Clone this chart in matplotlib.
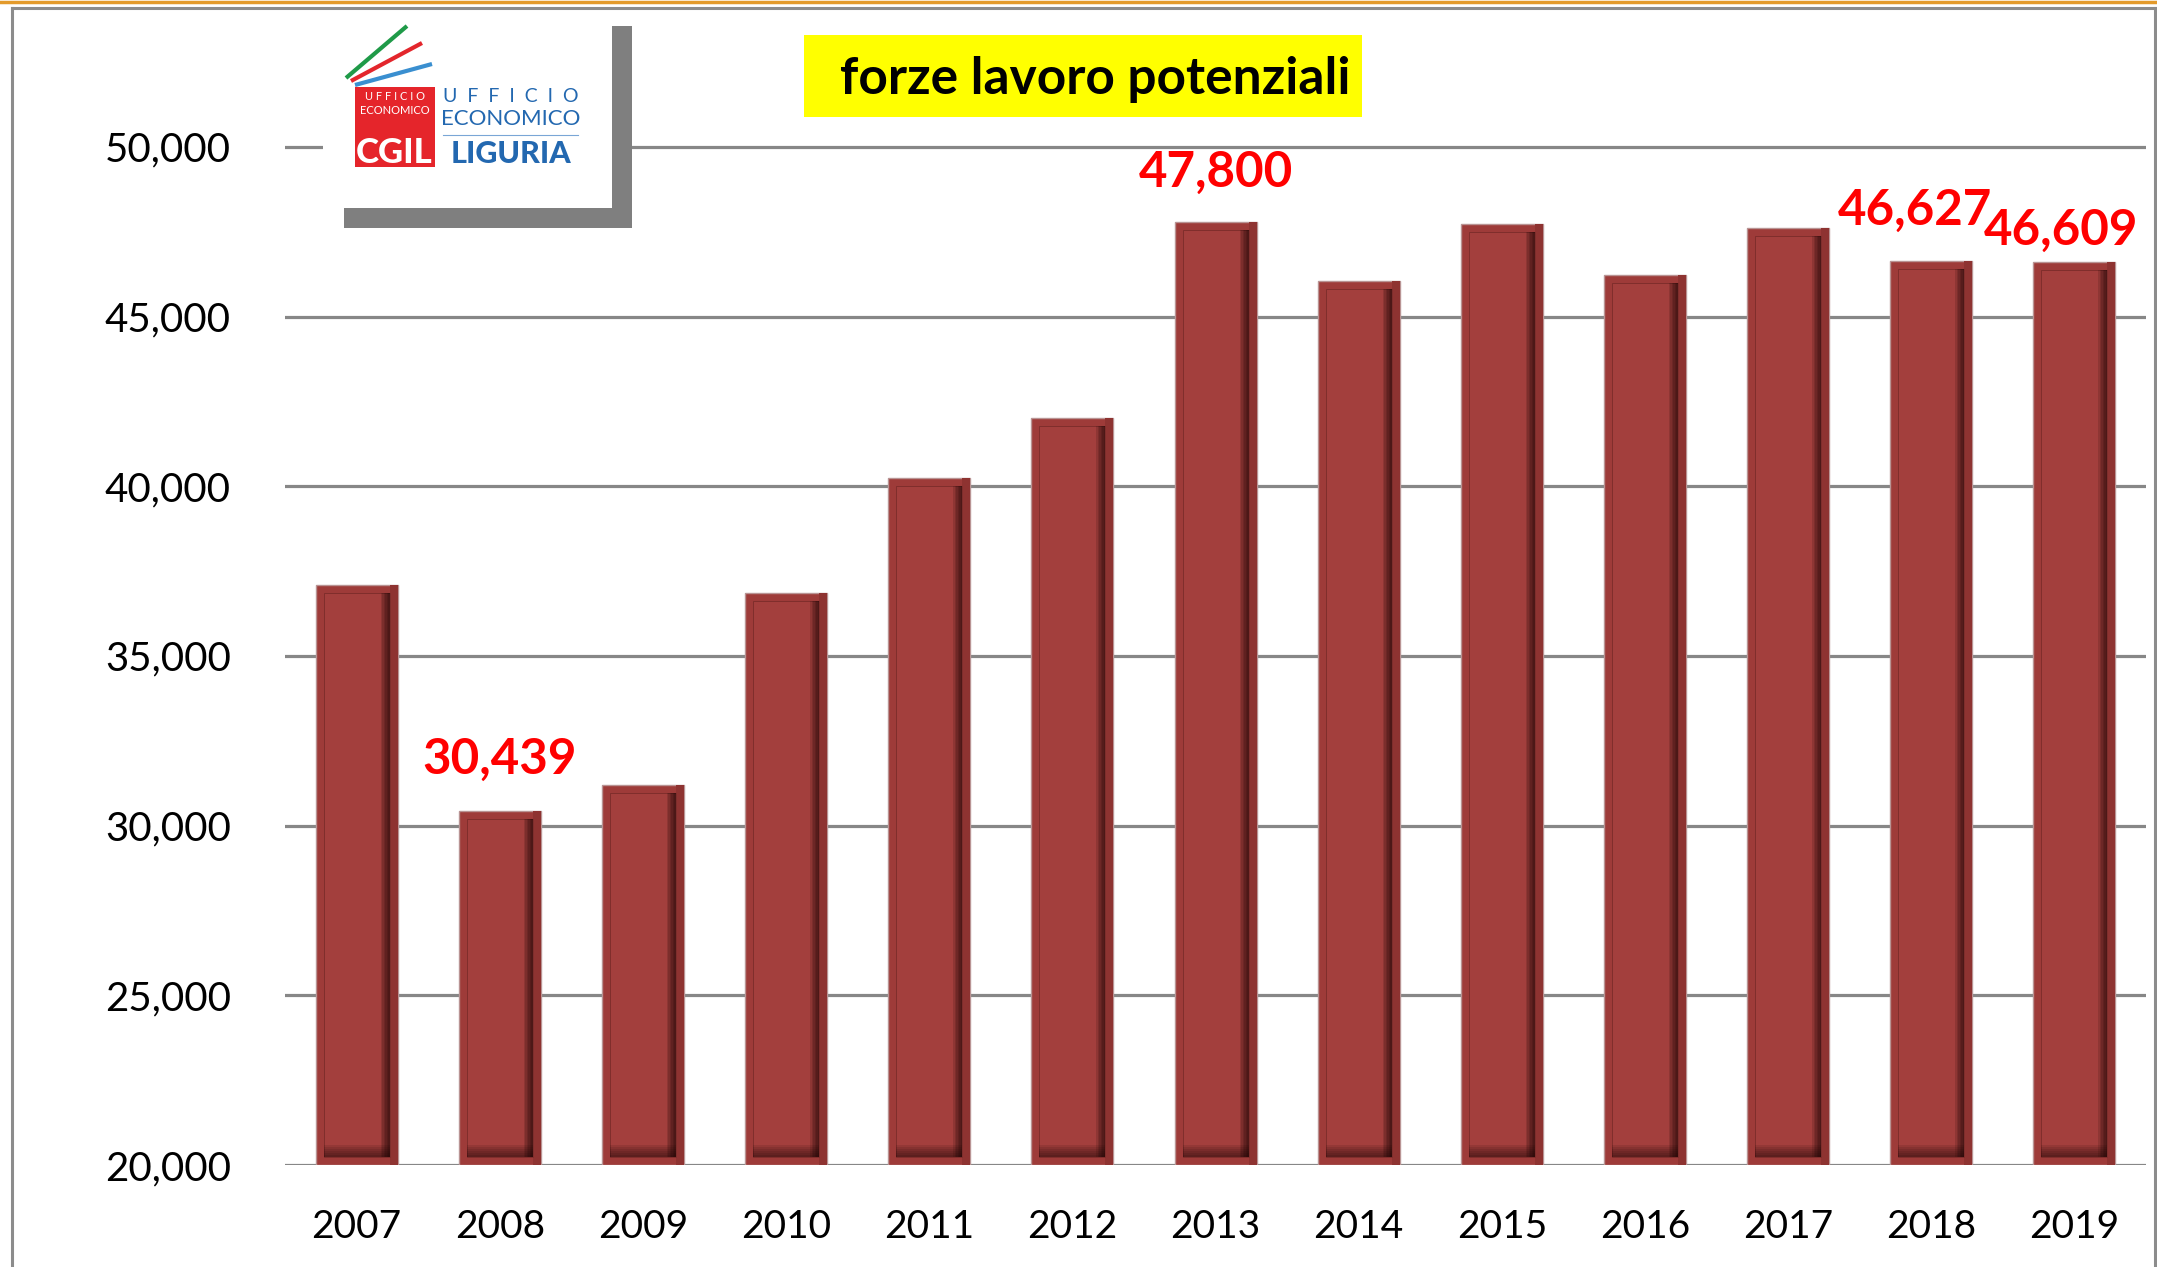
#!/usr/bin/env python
"""
	Bar chart of the potential labour force (forze lavoro potenziali), 2007-2019.
"""

import numpy as np
import matplotlib.pyplot as plt
from matplotlib.patches import Rectangle
from matplotlib.lines import Line2D

# Data
years = ['2007', '2008', '2009', '2010', '2011', '2012', '2013',
         '2014', '2015', '2016', '2017', '2018', '2019']
values = [37100, 30439, 31200, 36850, 40250, 42000, 47800,
          46050, 47720, 46230, 47620, 46627, 46609]
labelled = ['2008', '2013', '2018', '2019']
y_ticks = [20000, 25000, 30000, 35000, 40000, 45000, 50000]

# Figure geometry in pixels (dpi 100)
W, H = 2157, 1267
def fx(px):
	return px / float(W)
def fy(py):
	return 1 - py / float(H)

plt.rcParams['font.family'] = ['Lato', 'DejaVu Sans']

fig = plt.figure(figsize=(W / 100.0, H / 100.0), dpi=100)
fig.patch.set_facecolor('white')

# Plot area
ax_left, ax_right, ax_bottom, ax_top = 285, 2146, 1165, 79
ax = fig.add_axes([fx(ax_left), fy(ax_bottom), fx(ax_right) - fx(ax_left), fy(ax_top) - fy(ax_bottom)])
ax.set_xlim(-0.5, len(years) - 0.5)
ax.set_ylim(20000, 52000)

grid_col = '#878787'
for yv in y_ticks:
	ax.axhline(yv, color=grid_col, linewidth=2.3, zorder=1)

# Bars with a bevel look
x = np.arange(len(years))
vals = np.array(values, dtype=float)
base = 20000
px_x = (len(years)) / float(ax_right - ax_left)   # data units per pixel (x)
px_y = 32000 / float(ax_bottom - ax_top)          # data units per pixel (y)
w = 82 * px_x
dx = 8 * px_x
dy = 8 * px_y
heights = vals - base

ax.bar(x, heights, w, bottom=base, color='#9e3b39', edgecolor='#b99494', linewidth=1.0, zorder=2)
# darker right outer band
ax.bar(x + w / 2 - dx, heights, dx, bottom=base, align='edge', color='#8e3331', linewidth=0, zorder=2.2)
# inner face
ax.bar(x, heights - 2 * dy, w - 2 * dx, bottom=base + dy, color='#a33f3d',
       edgecolor='#7a2c2a', linewidth=0.6, zorder=3)
# inner right shadow
n = 6
sw = 9 * px_x
for k in range(n):
	s = sw * (k + 1) / n
	ax.bar(x + w / 2 - dx - s, heights - 2 * dy, s, bottom=base + dy, align='edge',
	       color='#1a0404', alpha=0.15, linewidth=0, zorder=3.2)
# inner bottom shadow
sh = 12 * px_y
for k in range(n):
	s = sh * (k + 1) / n
	ax.bar(x, s, w - 2 * dx, bottom=base + dy, color='#1a0404', alpha=0.11, linewidth=0, zorder=3.3)

# Axes formatting
for sp in ax.spines.values():
	sp.set_visible(False)
ax.set_yticks(y_ticks)
ax.set_yticklabels(['{:,}'.format(v) for v in y_ticks], fontsize=29)
ax.set_xticks(x)
ax.set_xticklabels(years, fontsize=28)
ax.tick_params(axis='y', length=0, pad=39)
ax.tick_params(axis='x', length=0, pad=32)
ax.patch.set_alpha(0)

# Value labels (offsets in points: dx, dy above bar top)
label_offsets = {'2008': (0, 26.5), '2013': (0, 25), '2018': (-11.5, 26), '2019': (-9.5, 12)}
for i, yr in enumerate(years):
	if yr in labelled:
		ox, oy = label_offsets[yr]
		ax.annotate('{:,}'.format(values[i]), (i, values[i]), xytext=(ox, oy),
		            textcoords='offset points', ha='center', va='baseline',
		            fontsize=35.5, fontweight='bold', color='#ff0000', zorder=5)

# Outer frame
fig.add_artist(Line2D([fx(0), fx(W)], [fy(1.5), fy(1.5)], color='#e39a2b', linewidth=2.5, transform=fig.transFigure))
frame_kw = dict(color='#8c8c8c', linewidth=2.2, transform=fig.transFigure)
fig.add_artist(Line2D([fx(12), fx(2155)], [fy(8), fy(8)], **frame_kw))
fig.add_artist(Line2D([fx(12), fx(12)], [fy(8), fy(H)], **frame_kw))
fig.add_artist(Line2D([fx(2155), fx(2155)], [fy(8), fy(H)], **frame_kw))

# Title box
fig.add_artist(Rectangle((fx(804), fy(117)), fx(1362) - fx(804), fy(35) - fy(117),
                         facecolor='#ffff00', edgecolor='none', transform=fig.transFigure))
fig.text(fx(1095), fy(94), 'forze lavoro potenziali', ha='center', va='baseline',
         fontsize=37, fontweight='bold', color='black')

# Logo box with shadow
fig.add_artist(Rectangle((fx(344), fy(228)), fx(632) - fx(344), fy(26) - fy(228),
                         facecolor='#7f7f7f', edgecolor='none', transform=fig.transFigure))
fig.add_artist(Rectangle((fx(323), fy(208)), fx(612) - fx(323), fy(4) - fy(208),
                         facecolor='white', edgecolor='none', transform=fig.transFigure))
# stripes
for (x0, y0, x1, y1, c) in [(346, 78, 407, 26, '#1f9a48'), (351, 81, 422, 43, '#e3262c'),
                            (355, 85, 432, 64, '#3a8fd0')]:
	fig.add_artist(Line2D([fx(x0), fx(x1)], [fy(y0), fy(y1)], color=c, linewidth=3.0,
	                      solid_capstyle='butt', transform=fig.transFigure))
# red square
fig.add_artist(Rectangle((fx(355), fy(167)), fx(435) - fx(355), fy(87) - fy(167),
                         facecolor='#e5252b', edgecolor='none', transform=fig.transFigure))
fig.text(fx(395), fy(97), 'U F F I C I O', ha='center', va='center', fontsize=8, color='white')
fig.text(fx(395), fy(110), 'ECONOMICO', ha='center', va='center', fontsize=8, color='white')
fig.text(fx(394), fy(163), 'CGIL', ha='center', va='baseline', fontsize=25, fontweight='black', color='white')
blue = '#2368b0'
fig.text(fx(511), fy(97), 'U  F  F  I  C  I  O', ha='center', va='center', fontsize=14, color=blue)
fig.text(fx(511), fy(119), 'ECONOMICO', ha='center', va='center', fontsize=16, color=blue)
fig.add_artist(Line2D([fx(443), fx(578)], [fy(135), fy(135)], color='#7aa6d6', linewidth=0.8,
                      transform=fig.transFigure))
fig.text(fx(511), fy(163), 'LIGURIA', ha='center', va='baseline', fontsize=22, fontweight='black', color=blue)

fig.savefig('out.png', dpi=100)
plt.close('all')
